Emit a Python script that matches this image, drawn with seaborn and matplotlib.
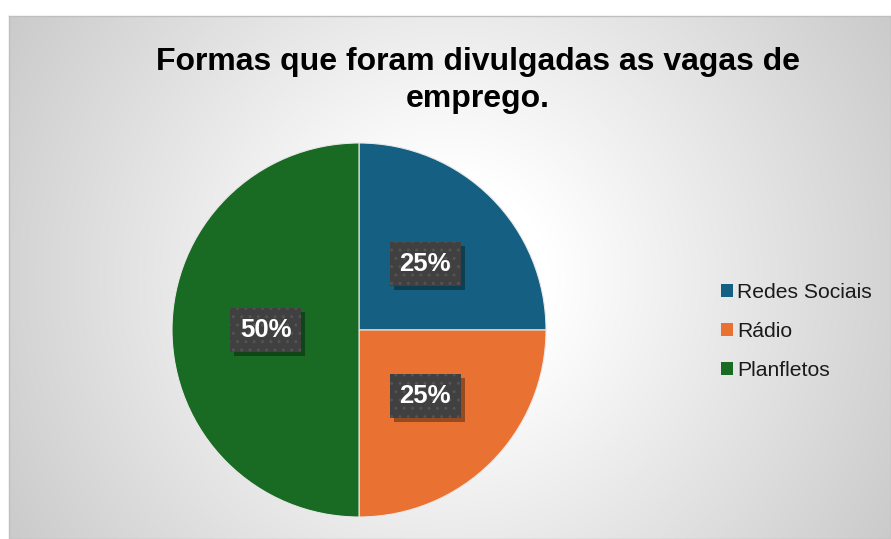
import numpy as np
import matplotlib
matplotlib.use("Agg")
import matplotlib.pyplot as plt
from matplotlib.patches import Rectangle
import seaborn as sns

# ---- data ----
categories = ["Redes Sociais", "Rádio", "Planfletos"]
values = [25, 25, 50]
colors = ["#156082", "#E97132", "#196B24"]
title_lines = ["Formas que foram divulgadas as vagas de", "emprego."]

sns.set_theme(style="white")
plt.rcParams['font.family'] = ['Liberation Sans', 'DejaVu Sans']
plt.rcParams['hatch.linewidth'] = 1.0

W, H = 891, 539
fig = plt.figure(figsize=(W / 100, H / 100), dpi=100)
fig.patch.set_facecolor("white")

# ---- background chart area with radial gradient ----
x0, y0, x1, y1 = 9, 0, 891, 523  # pixel box (from bottom)
bg = fig.add_axes([x0 / W, y0 / H, (x1 - x0) / W, (y1 - y0) / H])
gw, gh = x1 - x0, y1 - y0
yy, xx = np.mgrid[0:gh, 0:gw] + 0.5
cx, cy = gw / 2.0, gh / 2.0
rr = np.hypot(xx - cx, yy - cy)
v = 1.0 - 0.17 * np.clip((rr - 100.0) / 341.0, 0, None)
img = np.dstack([v, v, v])
bg.imshow(img, aspect="auto", extent=(0, gw, gh, 0), interpolation="bilinear")
bg.set_xticks([]); bg.set_yticks([])
for s in bg.spines.values():
    s.set_color("#BFBFBF"); s.set_linewidth(1.0)
bg.set_zorder(0)

# ---- pie ----
cxp, cyp, r = 359, 330, 187
ax = fig.add_axes([(cxp - r) / W, (H - cyp - r) / H, 2 * r / W, 2 * r / H])
ax.set_zorder(2)
ax.patch.set_alpha(0)
wedges, texts, autotexts = ax.pie(
    values, colors=colors, startangle=90, counterclock=False,
    autopct="%1.0f%%", pctdistance=0.5,
    wedgeprops=dict(edgecolor="#E8E8E8", linewidth=0.8),
    textprops=dict(color="white", fontsize=18.5, fontweight="bold", zorder=5),
)
ax.set_xlim(-1, 1); ax.set_ylim(-1, 1)
ax.set_aspect("equal")
for t in autotexts:
    t.set_bbox(dict(boxstyle="square,pad=0.38", facecolor="#404040",
                    edgecolor="#535353", linewidth=0, hatch=".."))

# shadows behind label boxes (inside the pie axes, under the texts)
fig.canvas.draw()
renderer = fig.canvas.get_renderer()
inv = ax.transData.inverted()
for t in autotexts:
    bb = t.get_bbox_patch().get_window_extent(renderer)
    (dx0, dy0) = inv.transform((bb.x0 + 4, bb.y0 - 4))
    (dx1, dy1) = inv.transform((bb.x1 + 4, bb.y1 - 4))
    ax.add_patch(Rectangle((dx0, dy0), dx1 - dx0, dy1 - dy0,
                           facecolor="black", alpha=0.35, linewidth=0,
                           zorder=4))

# ---- title ----
fig.text(478 / W, 1 - 70 / H, title_lines[0], ha="center", va="baseline",
         fontsize=23, fontweight="bold", color="black")
fig.text(478 / W, 1 - 107 / H, title_lines[1], ha="center", va="baseline",
         fontsize=23, fontweight="bold", color="black")

# ---- legend ----
handles = [Rectangle((0, 0), 1, 1, facecolor=c, edgecolor="none") for c in colors]
leg = fig.legend(handles, categories, loc="upper left",
                 bbox_to_anchor=(721 / W, 1 - 283 / H),
                 frameon=False, fontsize=15.2, handlelength=0.55,
                 handleheight=0.55, handletextpad=0.2, labelspacing=0.95,
                 borderpad=0, borderaxespad=0)
for t in leg.get_texts():
    t.set_color("#1A1A1A")

fig.savefig("out.png", dpi=100)
